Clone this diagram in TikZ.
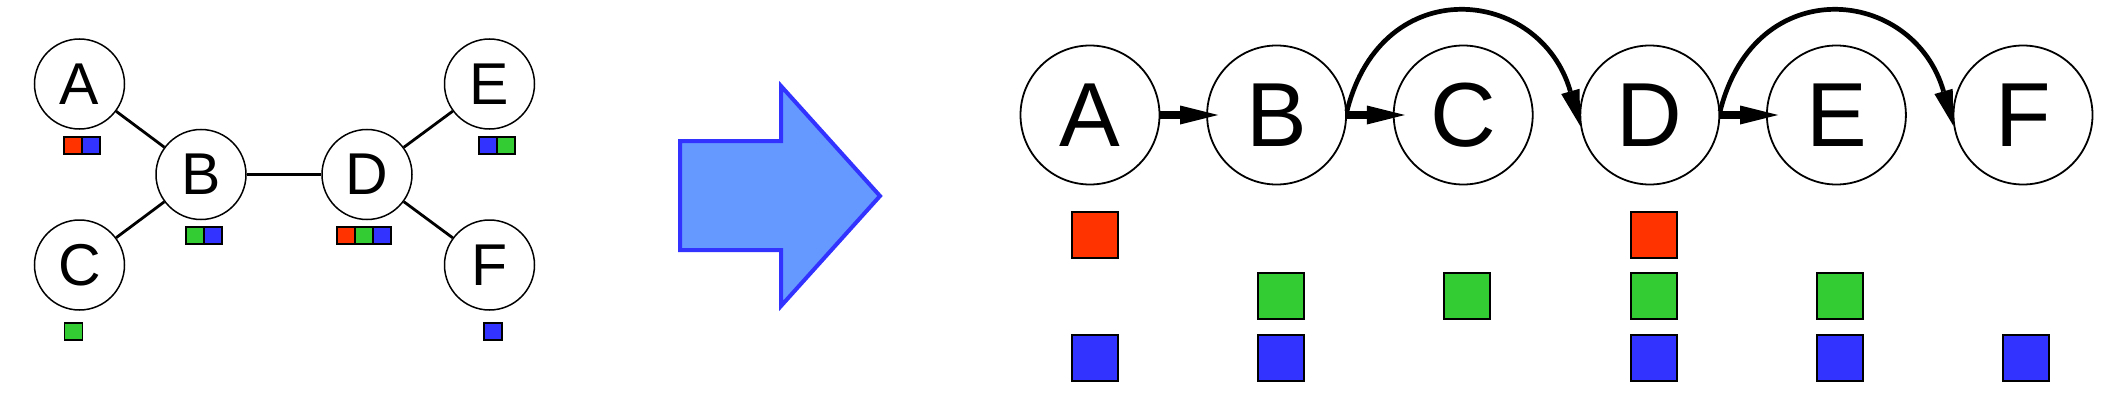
\documentclass[tikz,border=0pt]{standalone}
\usepackage{fontspec}
\setmainfont{Liberation Sans}
\usetikzlibrary{arrows.meta}
\definecolor{sqred}{HTML}{FF3300}
\definecolor{sqgreen}{HTML}{33CC33}
\definecolor{sqblue}{HTML}{3333FF}
\definecolor{arrfill}{HTML}{6699FF}
\definecolor{arrline}{HTML}{3333FF}
\begin{document}
\begin{tikzpicture}[x=1pt,y=-1pt,
  smallnode/.style={circle,draw,line width=1.5pt,minimum size=90pt,inner sep=0pt,font=\fontsize{59}{59}\selectfont},
  bignode/.style={circle,draw,line width=1.8pt,minimum size=139pt,inner sep=0pt,font=\fontsize{91}{91}\selectfont},
  graphedge/.style={line width=2.8pt},
  sarrow/.style={line width=8pt,-{Triangle[length=38pt,width=19pt,line width=0pt]},shorten >=-12pt},
  carrow/.style={line width=4.7pt,-{Triangle[length=36pt,width=19pt,line width=0pt]}},
  lsq/.style={draw=black,line width=1.5pt},
  rsq/.style={draw=black,line width=2pt},
  blockarrow/.style={draw=arrline,fill=arrfill,line width=4pt,line join=miter}
]
\useasboundingbox (0,0) rectangle (2117,420);

% ---- left graph ----
\node[smallnode] (A) at (79.5,84) {A};
\node[smallnode] (B) at (201,174.5) {B};
\node[smallnode] (C) at (79.5,265) {C};
\node[smallnode] (D) at (367,174.5) {D};
\node[smallnode] (E) at (489.5,84) {E};
\node[smallnode] (F) at (489.5,265) {F};
\draw[graphedge] (A) -- (B);
\draw[graphedge] (C) -- (B);
\draw[graphedge] (B) -- (D);
\draw[graphedge] (D) -- (E);
\draw[graphedge] (D) -- (F);

\draw[lsq,fill=sqred]   (64,137) rectangle (82,154);
\draw[lsq,fill=sqblue]  (82,137) rectangle (100,154);
\draw[lsq,fill=sqgreen] (186,227) rectangle (204,244);
\draw[lsq,fill=sqblue]  (204,227) rectangle (222,244);
\draw[lsq,fill=sqred]   (337,227) rectangle (355,244);
\draw[lsq,fill=sqgreen] (355,227) rectangle (373,244);
\draw[lsq,fill=sqblue]  (373,227) rectangle (391,244);
\draw[lsq,fill=sqblue]  (479,137) rectangle (497,154);
\draw[lsq,fill=sqgreen] (497,137) rectangle (515,154);
\draw[lsq,fill=sqgreen] (64.5,323) rectangle (82.5,340);
\draw[lsq,fill=sqblue]  (484,323) rectangle (502,340);

% ---- block arrow ----
\draw[blockarrow] (680,141) -- (781,141) -- (781,86) -- (880,196) -- (781,306) -- (781,250) -- (680,250) -- cycle;

% ---- right chain ----
\node[bignode] (rA) at (1090,115) {A};
\node[bignode] (rB) at (1276.6,115) {B};
\node[bignode] (rC) at (1463.2,115) {C};
\node[bignode] (rD) at (1649.8,115) {D};
\node[bignode] (rE) at (1836.4,115) {E};
\node[bignode] (rF) at (2023,115) {F};
\draw[sarrow] (rA) -- (rB);
\draw[sarrow] (rB) -- (rC);
\draw[sarrow] (rD) -- (rE);
\draw[carrow] (rB.3) .. controls +(76:145pt) and +(106:145pt) .. (rD.189);
\draw[carrow] (rD.3) .. controls +(76:145pt) and +(106:145pt) .. (rF.189);

% squares: columns
\draw[rsq,fill=sqred]   (1071.7,211.5) rectangle +(46,46);
\draw[rsq,fill=sqblue]  (1071.7,335.3) rectangle +(46,46);
\draw[rsq,fill=sqgreen] (1258,273.2) rectangle +(46,46);
\draw[rsq,fill=sqblue]  (1258,335.3) rectangle +(46,46);
\draw[rsq,fill=sqgreen] (1444.3,273.2) rectangle +(46,46);
\draw[rsq,fill=sqred]   (1630.6,211.5) rectangle +(46,46);
\draw[rsq,fill=sqgreen] (1630.6,273.2) rectangle +(46,46);
\draw[rsq,fill=sqblue]  (1630.6,335.3) rectangle +(46,46);
\draw[rsq,fill=sqgreen] (1816.9,273.2) rectangle +(46,46);
\draw[rsq,fill=sqblue]  (1816.9,335.3) rectangle +(46,46);
\draw[rsq,fill=sqblue]  (2003.2,335.3) rectangle +(46,46);
\end{tikzpicture}
\end{document}
